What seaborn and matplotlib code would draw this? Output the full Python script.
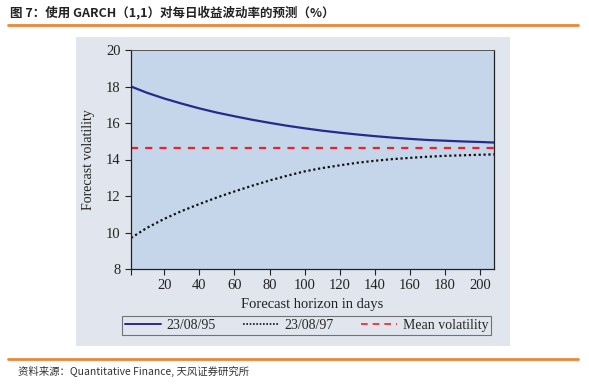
import matplotlib
matplotlib.use("Agg")
import matplotlib.pyplot as plt
import seaborn as sns
import pandas as pd
from matplotlib.patches import Rectangle
from matplotlib.lines import Line2D

sns.set_theme(style="white")
plt.rcParams['font.family'] = ['Liberation Serif', 'DejaVu Serif']

days = [1, 10, 20, 30, 40, 50, 60, 70, 80, 90, 100, 110, 120, 130, 140,
        150, 160, 170, 180, 190, 200, 208]
vol_950823 = [18.0, 17.66, 17.34, 17.06, 16.8, 16.57, 16.37, 16.18, 16.01, 15.85, 15.71,
              15.58, 15.47, 15.37, 15.28, 15.2, 15.13, 15.07, 15.03, 14.99, 14.96, 14.93]
vol_970823 = [9.7, 10.25, 10.75, 11.18, 11.56, 11.92, 12.25, 12.56, 12.85, 13.11, 13.35,
              13.53, 13.68, 13.82, 13.93, 14.02, 14.09, 14.15, 14.2, 14.23, 14.26, 14.28]
mean_vol = 14.65
series_names = ["23/08/95", "23/08/97", "Mean volatility"]
xticks = [20, 40, 60, 80, 100, 120, 140, 160, 180, 200]
yticks = [8, 10, 12, 14, 16, 18, 20]

df1 = pd.DataFrame({"day": days, "vol": vol_950823})
df2 = pd.DataFrame({"day": days, "vol": vol_970823})
dfm = pd.DataFrame({"day": [days[0], days[-1]], "vol": [mean_vol, mean_vol]})

W, H = 589, 384
fig = plt.figure(figsize=(W / 100, H / 100), dpi=100)
fig.patch.set_facecolor("white")

# outer panel
fig.patches.append(Rectangle((76 / W, 1 - 346 / H), (510 - 76) / W, (346 - 37) / H,
                             transform=fig.transFigure, facecolor="#e1e6ee",
                             edgecolor="none", zorder=-5))

ax = fig.add_axes([131 / W, 1 - 269 / H, (494 - 131) / W, (269 - 50) / H])
ax.set_zorder(2)
ax.set_facecolor("#c6d6ea")

sns.lineplot(data=df1, x="day", y="vol", ax=ax, color="#262a8c", lw=1.6)
sns.lineplot(data=df2, x="day", y="vol", ax=ax, color="#111111", lw=1.6,
             linestyle=(0, (1, 1.2)))
sns.lineplot(data=dfm, x="day", y="vol", ax=ax, color="#e8232a", lw=1.6,
             linestyle=(0, (3.2, 3.2)))

ax.set_xlim(1, 208)
ax.set_ylim(8, 20)
ax.set_xticks([1] + xticks)
ax.set_xticklabels([""] + [str(t) for t in xticks])
ax.set_yticks(yticks)
ax.tick_params(axis="both", direction="out", length=4, width=0.8, color="#222222",
               labelsize=10.5, labelcolor="#222222", bottom=True, left=True)
for s in ["left", "bottom", "right"]:
    ax.spines[s].set_color("#222222")
    ax.spines[s].set_linewidth(0.9)
ax.spines["top"].set_color("#555555")
ax.spines["top"].set_linewidth(0.7)
ax.set_xlabel("Forecast horizon in days", fontsize=10.5, color="#222222", labelpad=4)
ax.set_ylabel("Forecast volatility", fontsize=10, color="#222222", labelpad=8)

handles = [Line2D([], [], color="#262a8c", lw=1.4),
           Line2D([], [], color="#111111", lw=1.2, linestyle=(0, (1, 1))),
           Line2D([], [], color="#e8232a", lw=1.2, linestyle=(0, (4, 3)))]
leg = fig.legend(handles, series_names, loc="center", ncol=3,
                 bbox_to_anchor=((121 + 492) / 2 / W, 1 - 325.5 / H),
                 frameon=True, fancybox=False, edgecolor="#555555",
                 facecolor="#e1e6ee", fontsize=10, handlelength=2.6, handletextpad=0.45,
                 borderpad=0.2, columnspacing=1.9, borderaxespad=0)
leg.get_frame().set_linewidth(0.8)
leg.set_zorder(5)

# header / footer
cjk = ['Noto Sans CJK SC', 'DejaVu Sans']
fig.text(10 / W, 1 - 12 / H, "图 7：使用 GARCH（1,1）对每日收益波动率的预测（%）",
         family=cjk, fontsize=9, fontweight="bold", color="#222222", va="center", ha="left")
fig.add_artist(Line2D([8 / W, 578 / W], [1 - 25 / H, 1 - 25 / H], color="#e8883a",
                      lw=2, transform=fig.transFigure))
fig.add_artist(Line2D([8 / W, 578 / W], [1 - 359 / H, 1 - 359 / H], color="#e8883a",
                      lw=2, transform=fig.transFigure))
fig.text(18 / W, 1 - 371 / H, "资料来源：Quantitative Finance, 天风证券研究所",
         family=cjk, fontsize=7.5, color="#333333", va="center", ha="left")

fig.savefig("out.png", dpi=100, facecolor="white")
